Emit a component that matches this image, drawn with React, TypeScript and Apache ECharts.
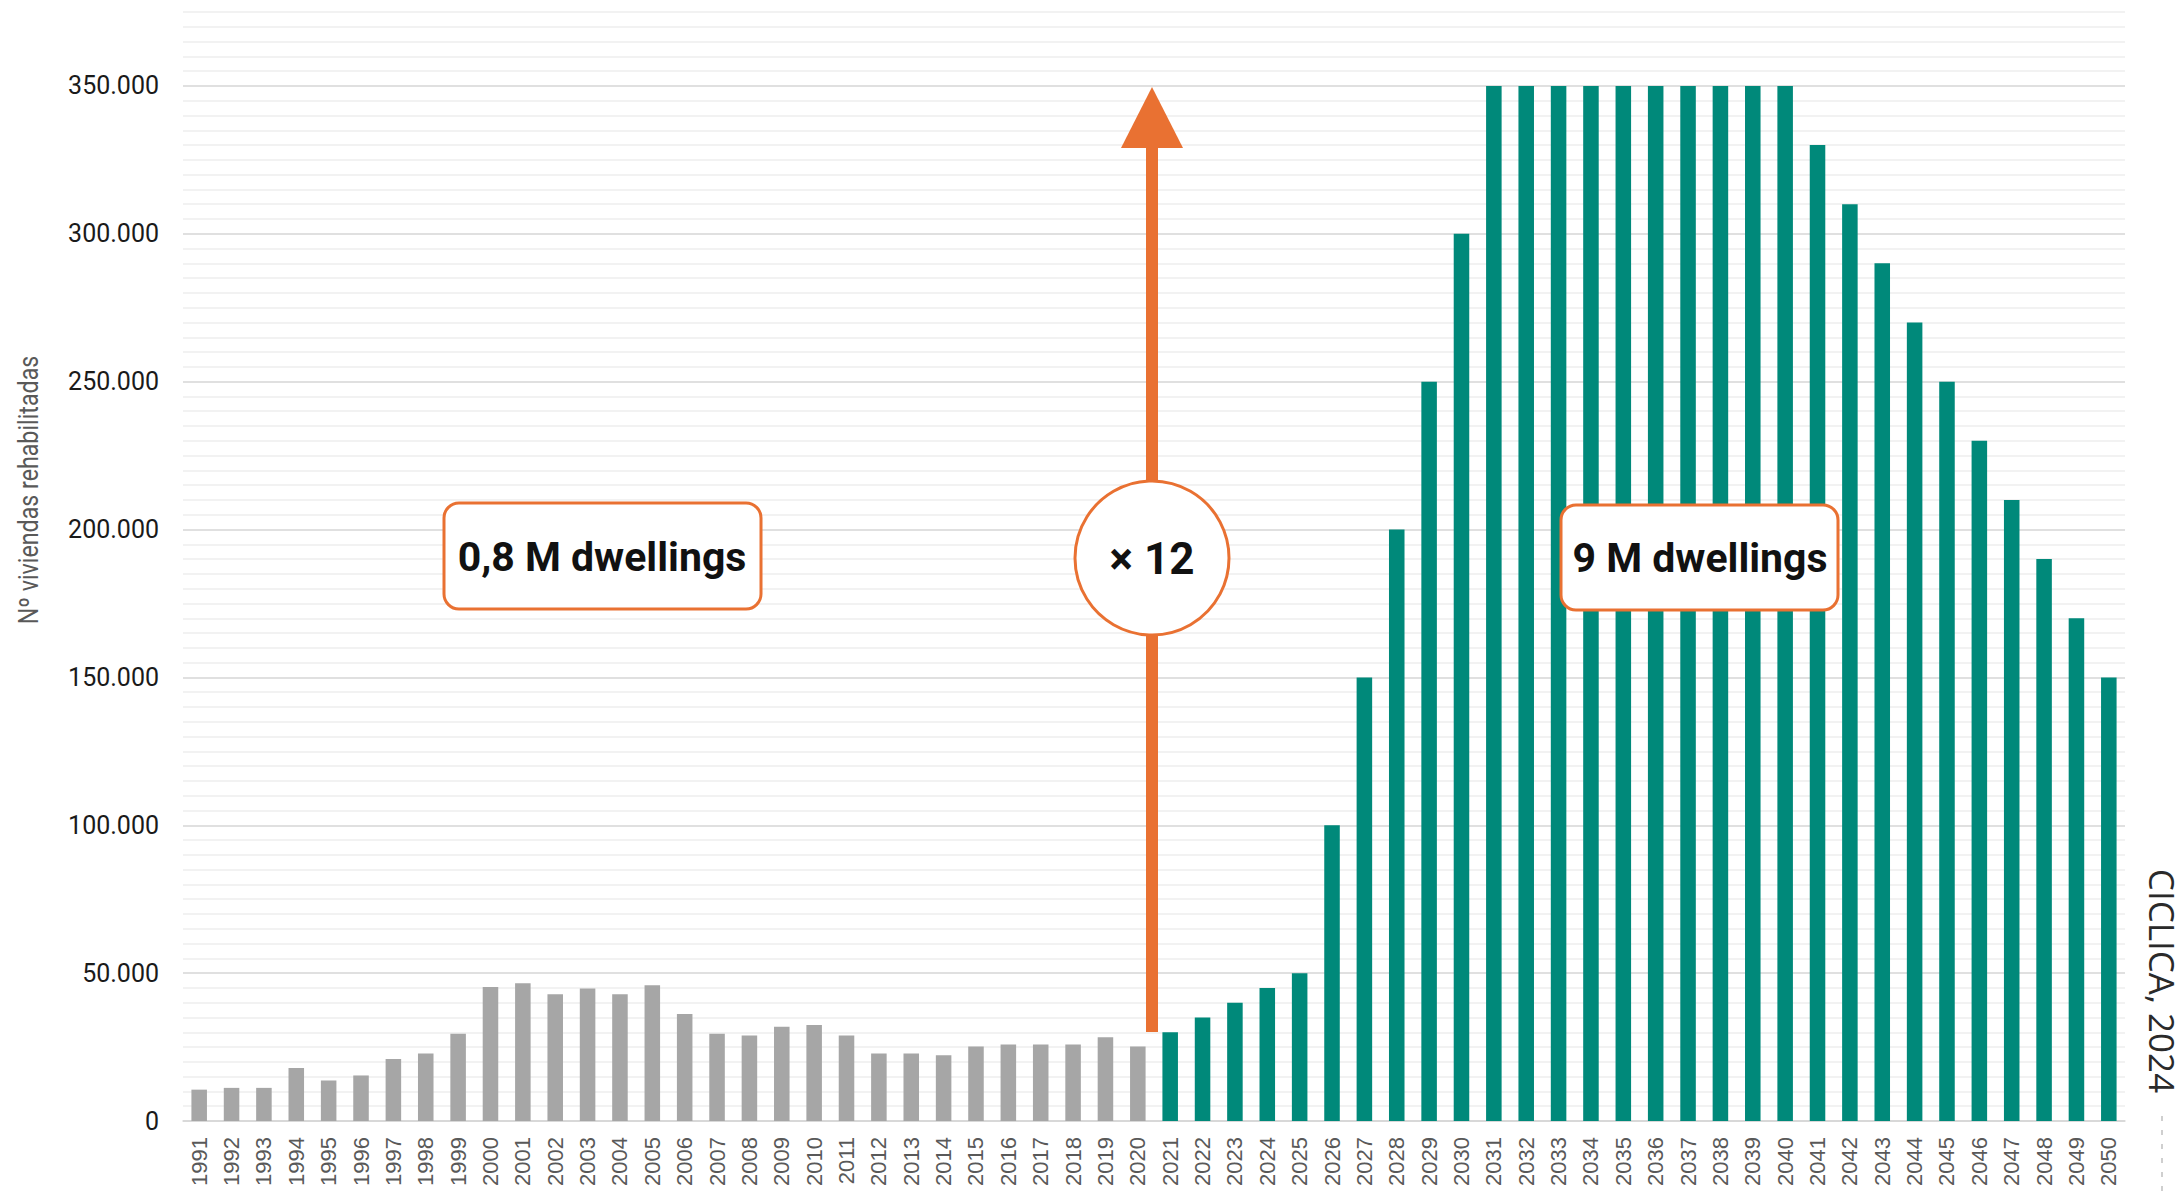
import React, { useEffect, useRef } from "react";
import * as echarts from "echarts";

const years: string[] = [];
for (let y = 1991; y <= 2050; y++) years.push(String(y));

// 1991–2020 (historical)
const historical = [
  10600, 11200, 11200, 17900, 13700, 15400, 21000, 22800, 29500, 45300,
  46600, 42900, 44800, 42900, 45900, 36200, 29500, 28900, 31900, 32500,
  28900, 22800, 22800, 22200, 25200, 25900, 25900, 25900, 28300, 25200,
];
// 2021–2050 (projection)
const projected = [
  30000, 35000, 40000, 45000, 50000, 100000, 150000, 200000, 250000, 300000,
  350000, 350000, 350000, 350000, 350000, 350000, 350000, 350000, 350000, 350000,
  330000, 310000, 290000, 270000, 250000, 230000, 210000, 190000, 170000, 150000,
];

const yTickLabels = [0, 50000, 100000, 150000, 200000, 250000, 300000, 350000];

const GRAY = "#a6a6a6";
const GREEN = "#00897a";
const ORANGE = "#e97132";

const fmt = (v: number) => String(v).replace(/\B(?=(\d{3})+(?!\d))/g, ".");

export default function App() {
  const ref = useRef<HTMLDivElement>(null);
  useEffect(() => {
    if (!ref.current) return;
    const chart = echarts.init(ref.current, undefined, { renderer: "svg" });
    const histData = years.map((_, i) => (i < historical.length ? historical[i] : "-"));
    const projData = years.map((_, i) =>
      i >= historical.length ? projected[i - historical.length] : "-"
    );
    const splitColors = Array.from({ length: 10 }, (_, i) => (i === 0 ? "#d6d6d6" : "#eeeeee"));
    const Z = 100;

    chart.setOption({
      animation: false,
      backgroundColor: "#ffffff",
      grid: { left: 183, right: 57, top: 12, bottom: 72, containLabel: false },
      xAxis: {
        type: "category",
        data: years,
        axisLine: { show: true, lineStyle: { color: "#d6d6d6", width: 1.5 } },
        axisTick: { show: false },
        axisLabel: {
          rotate: 90,
          interval: 0,
          margin: 16,
          color: "#595959",
          fontSize: 22,
          fontFamily: "'Liberation Sans', Arial, sans-serif",
        },
      },
      yAxis: {
        type: "value",
        min: 0,
        max: 375000,
        interval: 5000,
        axisLine: { show: false },
        axisTick: { show: false },
        splitLine: { show: true, lineStyle: { color: splitColors, width: 1.5 } },
        axisLabel: {
          margin: 24,
          color: "#1a1a1a",
          fontSize: 25,
          fontFamily: "Roboto, sans-serif",
          formatter: (v: number) => (yTickLabels.indexOf(v) >= 0 ? fmt(v) : ""),
        },
      },
      series: [
        {
          type: "bar",
          name: "historical",
          stack: "a",
          data: histData,
          barWidth: "48%",
          itemStyle: { color: GRAY },
        },
        {
          type: "bar",
          name: "projected",
          stack: "a",
          data: projData,
          barWidth: "48%",
          itemStyle: { color: GREEN },
        },
      ],
      graphic: [
        {
          type: "text",
          x: 29,
          y: 490,
          rotation: Math.PI / 2,
          scaleX: 0.86,
          z: Z,
          style: {
            text: "Nº viviendas rehabilitadas",
            fill: "#595959",
            font: "27px Roboto, sans-serif",
            align: "center",
            verticalAlign: "middle",
          },
        },
        {
          type: "rect",
          z: Z,
          shape: { x: 1146, y: 146, width: 12, height: 886 },
          style: { fill: ORANGE },
        },
        {
          type: "polygon",
          z: Z,
          shape: { points: [[1121, 148], [1183, 148], [1152, 87]] },
          style: { fill: ORANGE },
        },
        {
          type: "circle",
          z: Z + 1,
          shape: { cx: 1152, cy: 558, r: 77 },
          style: { fill: "#ffffff", stroke: ORANGE, lineWidth: 3 },
        },
        {
          type: "text",
          z: Z + 2,
          x: 1152,
          y: 559,
          style: {
            text: "× 12",
            fill: "#111111",
            font: "bold 44px Roboto, sans-serif",
            align: "center",
            verticalAlign: "middle",
          },
        },
        {
          type: "rect",
          z: Z + 1,
          shape: { x: 444, y: 503, width: 317, height: 106, r: 15 },
          style: { fill: "#ffffff", stroke: ORANGE, lineWidth: 3 },
        },
        {
          type: "text",
          z: Z + 2,
          x: 602,
          y: 557,
          style: {
            text: "0,8 M dwellings",
            fill: "#111111",
            font: "bold 41px Roboto, sans-serif",
            align: "center",
            verticalAlign: "middle",
          },
        },
        {
          type: "rect",
          z: Z + 1,
          shape: { x: 1561, y: 505, width: 277, height: 105, r: 15 },
          style: { fill: "#ffffff", stroke: ORANGE, lineWidth: 3 },
        },
        {
          type: "text",
          z: Z + 2,
          x: 1700,
          y: 558,
          style: {
            text: "9 M dwellings",
            fill: "#111111",
            font: "bold 41px Roboto, sans-serif",
            align: "center",
            verticalAlign: "middle",
          },
        },
        {
          type: "text",
          z: Z,
          x: 2162,
          y: 981,
          rotation: -Math.PI / 2,
          style: {
            text: "CICLICA, 2024",
            fill: "#2a2a2a",
            font: "35px 'Open Sans', sans-serif",
            align: "center",
            verticalAlign: "middle",
          },
        },
        {
          type: "line",
          z: Z,
          shape: { x1: 2162, y1: 1116, x2: 2162, y2: 1193 },
          style: { stroke: "#cfcfcf", lineWidth: 2, lineDash: [5, 9] },
        },
      ],
    });
    return () => chart.dispose();
  }, []);
  return (
    <div
      ref={ref}
      style={{ position: "fixed", left: 0, top: 0, width: "2182px", height: "1193px" }}
    />
  );
}
